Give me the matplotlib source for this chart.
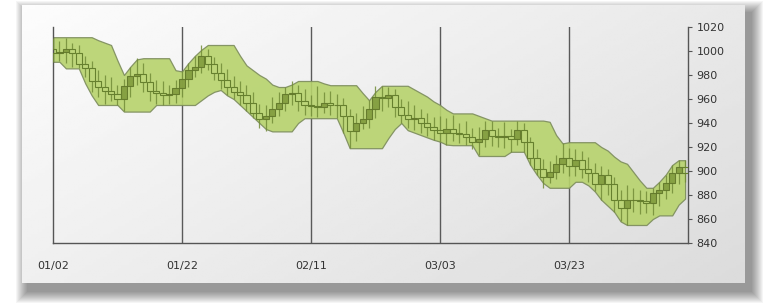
import numpy as np
import matplotlib
matplotlib.use("Agg")
import matplotlib.pyplot as plt
from matplotlib.patches import Rectangle

# daily candles, 01/02 onwards (x = day index)
opens = [1002, 998, 999, 1002, 998, 989, 986, 975, 970, 967,
         964, 960, 971, 979, 981, 974, 967, 965, 963, 964,
         969, 977, 984, 987, 996, 989, 982, 976, 970, 966,
         963, 957, 948, 943, 946, 952, 957, 964, 965, 958,
         955, 954, 953, 957, 955, 955, 946, 933, 940, 943,
         952, 962, 961, 963, 953, 947, 943, 944, 940, 937,
         934, 932, 935, 932, 931, 928, 924, 927, 934, 929,
         928, 929, 927, 934, 924, 911, 902, 895, 899, 906,
         911, 904, 909, 902, 898, 889, 897, 889, 876, 869,
         876, 876, 875, 873, 882, 884, 890, 898, 903]
closes = [998, 999, 1002, 998, 989, 986, 975, 970, 967, 964,
          960, 971, 979, 981, 974, 967, 965, 963, 964, 969,
          977, 984, 987, 996, 989, 982, 976, 970, 966, 963,
          957, 948, 943, 946, 952, 957, 964, 965, 958, 955,
          954, 953, 957, 955, 955, 946, 933, 940, 943, 952,
          962, 961, 963, 953, 947, 943, 944, 940, 937, 934,
          932, 935, 932, 931, 928, 924, 927, 934, 929, 928,
          929, 927, 934, 924, 911, 902, 895, 899, 906, 911,
          904, 909, 902, 898, 889, 897, 889, 876, 869, 876,
          876, 875, 873, 882, 884, 890, 898, 903, 898]
highs = [1011, 1008, 1011, 1007, 1005, 996, 992, 984, 980, 978,
         972, 977, 987, 994, 990, 982, 976, 975, 972, 976,
         983, 990, 996, 1005, 1002, 995, 990, 985, 979, 975,
         972, 966, 956, 955, 962, 966, 970, 975, 972, 968,
         963, 971, 966, 967, 964, 961, 952, 948, 954, 959,
         971, 971, 970, 968, 960, 958, 955, 952, 948, 945,
         946, 944, 947, 940, 942, 936, 937, 942, 942, 936,
         941, 935, 942, 940, 928, 918, 910, 908, 913, 923,
         919, 918, 917, 912, 907, 904, 902, 895, 884, 888,
         886, 884, 883, 886, 891, 897, 905, 909, 909]
lows = [991, 992, 990, 987, 986, 978, 966, 962, 956, 958,
        955, 950, 962, 972, 966, 958, 956, 955, 956, 957,
        962, 970, 978, 982, 984, 976, 968, 963, 960, 955,
        950, 944, 936, 933, 940, 946, 950, 955, 950, 947,
        946, 945, 948, 947, 944, 932, 919, 925, 935, 936,
        944, 950, 953, 945, 940, 936, 934, 932, 929, 926,
        924, 922, 925, 923, 922, 918, 913, 920, 921, 920,
        919, 916, 922, 916, 905, 897, 886, 890, 893, 898,
        896, 896, 894, 891, 883, 876, 880, 866, 858, 855,
        866, 864, 865, 863, 871, 877, 882, 889, 891]

# price channel edges
upper = [1011.5, 1011.5, 1011.5, 1011.5, 1011.5, 1011.5, 1011.5, 1009, 1007, 1005,
         992, 980, 987, 993, 994, 994, 994, 994, 994, 984,
         983, 990, 996, 1001, 1005, 1005, 1005, 1005, 1005, 996,
         988, 984, 980, 977, 972, 970, 970, 972, 975, 975,
         975, 975, 973, 971.5, 971.5, 971.5, 971.5, 971.5, 965, 959,
         966, 971, 971, 971, 971, 971, 968, 965, 962, 958,
         955, 951, 948, 948, 948, 948, 946, 944, 942, 942,
         942, 942, 942, 942, 942, 942, 942, 941, 930, 923,
         924, 924, 924, 924, 924, 920, 917, 912, 908, 906,
         899, 892, 886, 886, 891, 897, 905, 909, 909]
lower = [991, 991, 985.5, 985.5, 985.5, 973, 963, 955, 955, 955,
         955, 949.5, 949.5, 949.5, 949.5, 949.5, 955, 955, 955, 955,
         955, 955, 955, 959, 963, 966, 967.5, 963, 960, 955,
         950, 945, 940, 935, 933, 933, 933, 933, 940, 944,
         944, 944, 944, 944, 944, 932, 919, 919, 919, 919,
         919, 919, 927.5, 935, 940, 934, 932, 930, 928, 926,
         924.5, 922, 921.5, 921.5, 921.5, 921.5, 912.5, 912.5, 912.5, 912.5,
         912.5, 916, 916, 916, 905, 897, 890, 886, 886, 886,
         886, 891, 891, 888, 883, 876, 871, 866, 858, 855,
         855, 855, 855, 860, 863, 863, 863, 872, 877]

date_ticks = [0, 20, 40, 60, 80]
date_labels = ["01/02", "01/22", "02/11", "03/03", "03/23"]
price_ticks = [840, 860, 880, 900, 920, 940, 960, 980, 1000, 1020]

W, H = 773, 308
fig = plt.figure(figsize=(W / 100, H / 100), dpi=100)
fig.patch.set_facecolor("white")

# soft drop shadow behind the panel
px, py, pw, ph = 22, 25, 723, 278   # panel in pixels (from bottom-left)
for k in range(12, 0, -1):
    fig.patches.append(Rectangle(((px + 6 - k) / W, (py - 8 - k) / H),
                                 (pw + 2 * k) / W, (ph + 2 * k) / H,
                                 transform=fig.transFigure, facecolor="black",
                                 alpha=0.04, edgecolor="none", zorder=-5))

# gradient panel
bg = fig.add_axes([px / W, py / H, pw / W, ph / H], zorder=0)
gx, gy = np.meshgrid(np.linspace(0, 1, 200), np.linspace(0, 1, 100))
grad = 0.99 - 0.13 * (0.6 * gx + 0.4 * gy)
bg.imshow(grad, cmap="gray", vmin=0, vmax=1, aspect="auto", extent=(0, 1, 0, 1))
bg.set_axis_off()

ax = fig.add_axes([53 / W, 65 / H, 635 / W, 216 / H], zorder=1)
ax.patch.set_alpha(0)

x = np.arange(len(closes))
ax.fill_between(x, lower, upper, facecolor="#b7d36c", edgecolor="#7c8c5c",
                linewidth=0.9, alpha=0.9, zorder=2)

o = np.array(opens)
c = np.array(closes)
top = np.maximum(o, c)
bot = np.minimum(o, c)
up = c >= o
wick = "#728c38"
ax.vlines(x, top, highs, color=wick, linewidth=0.9, alpha=0.85, zorder=3)
ax.vlines(x, lows, bot, color=wick, linewidth=0.9, alpha=0.85, zorder=3)
ax.bar(x[up], (top - bot)[up], bottom=bot[up], width=0.95, color="#7d983a",
       edgecolor="#5c7226", linewidth=0.8, alpha=0.85, zorder=4)
ax.bar(x[~up], (top - bot)[~up], bottom=bot[~up], width=0.95, color="none",
       edgecolor="#66802e", linewidth=0.8, zorder=4)

ax.set_xlim(0, 98.45)
ax.set_ylim(840, 1020)
for t in date_ticks[1:]:
    ax.axvline(t, color="#5a5a5a", linewidth=1.0, zorder=1)

ax.set_xticks(date_ticks)
ax.set_xticklabels(date_labels)
ax.set_yticks(price_ticks)
ax.yaxis.tick_right()
ax.tick_params(axis="x", length=0, pad=13, labelsize=8, colors="#333333")
ax.tick_params(axis="y", length=3, width=0.8, pad=3, labelsize=8,
               colors="#555555", labelcolor="#333333")

ax.spines["top"].set_visible(False)
for side in ("left", "bottom", "right"):
    ax.spines[side].set_color("#555555")
    ax.spines[side].set_linewidth(1.0)

fig.savefig("out.png", dpi=100)
